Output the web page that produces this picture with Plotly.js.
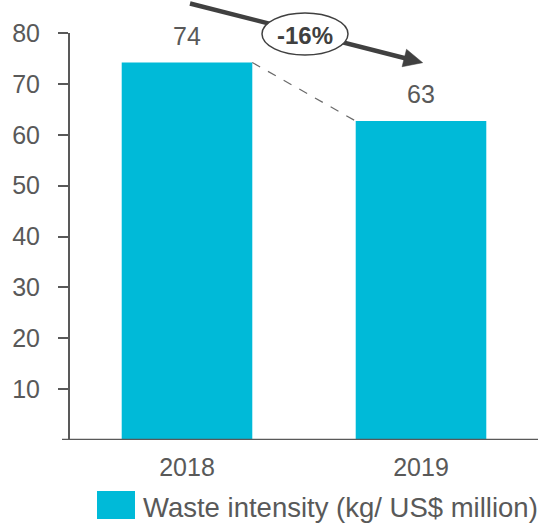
<!DOCTYPE html>
<html>
<head>
<meta charset="utf-8">
<script src="https://cdn.plot.ly/plotly-3.0.1.min.js"></script>
<style>
  html, body { margin: 0; padding: 0; background: #ffffff; }
  #chart { width: 538px; height: 525px; }
</style>
</head>
<body>
<div id="chart"></div>
<script>
// ---- data ----
const categories = ['2018', '2019'];
const wasteIntensity = [74.2, 62.7];
const yTickValues = [10, 20, 30, 40, 50, 60, 70, 80];
const seriesName = 'Waste intensity (kg/ US$ million)';
const changeLabel = '-16%';

// ---- layout helpers (pixel -> paper) ----
const L = 70, R = 0, T = 33, B = 85, WIDTH = 538, HEIGHT = 525;
const PW = WIDTH - L - R, PH = HEIGHT - T - B;
const X = px => (px - L) / PW;
const Y = py => (HEIGHT - B - py) / PH;

const barWidth = 0.558;
const FONT = 'Liberation Sans, Arial, sans-serif';
const GREY = '#595959';
const DARK = '#404040';
const BAR = '#00BAD8';

const trace = {
  type: 'bar',
  x: categories,
  y: wasteIntensity,
  width: barWidth,
  marker: { color: BAR },
  name: seriesName,
  showlegend: false,
  hoverinfo: 'x+y'
};

// arrow geometry
const tail = [190, 3.5], tip = [422.7, 62.7];
const dx = tip[0] - tail[0], dy = tip[1] - tail[1];
const len = Math.hypot(dx, dy);
const ux = dx / len, uy = dy / len, qx = -uy, qy = ux;
const headLen = 19, headHalf = 9;
const base = [tip[0] - ux * headLen, tip[1] - uy * headLen];
const p1 = [base[0] + qx * headHalf, base[1] + qy * headHalf];
const p2 = [base[0] - qx * headHalf, base[1] - qy * headHalf];

const shapes = [
  // x axis baseline (extends slightly left of the y axis)
  { type: 'line', xref: 'paper', yref: 'y', x0: X(62), x1: 1, y0: 0, y1: 0,
    line: { color: GREY, width: 2.5 } },
  // dashed connector between bar tops
  { type: 'line', xref: 'x', yref: 'y',
    x0: 0 + barWidth / 2, y0: wasteIntensity[0],
    x1: 1 - barWidth / 2, y1: wasteIntensity[1],
    line: { color: '#6a6a6a', width: 1.2, dash: 'dash' } },
  // arrow shaft
  { type: 'line', xref: 'paper', yref: 'paper',
    x0: X(tail[0]), y0: Y(tail[1]), x1: X(base[0] + ux * 2), y1: Y(base[1] + uy * 2),
    line: { color: DARK, width: 4.5 } },
  // arrow head
  { type: 'path', xref: 'paper', yref: 'paper',
    path: `M${X(tip[0])},${Y(tip[1])} L${X(p1[0])},${Y(p1[1])} L${X(p2[0])},${Y(p2[1])} Z`,
    fillcolor: DARK, line: { color: DARK, width: 0.5 } },
  // ellipse behind label
  { type: 'circle', xref: 'paper', yref: 'paper',
    x0: X(262), x1: X(348), y0: Y(55), y1: Y(13),
    fillcolor: '#ffffff', line: { color: DARK, width: 1.5 } },
  // legend swatch
  { type: 'rect', xref: 'paper', yref: 'paper',
    x0: X(97), x1: X(135), y0: Y(519), y1: Y(491),
    fillcolor: BAR, line: { width: 0 } }
];

const annotations = categories.map((c, i) => ({
  x: i, y: wasteIntensity[i], xref: 'x', yref: 'y',
  text: String(Math.round(wasteIntensity[i])),
  showarrow: false, xanchor: 'center', yanchor: 'bottom', yshift: 11,
  font: { family: FONT, size: 25, color: GREY }
}));
annotations.push({
  x: X(305), y: Y(35), xref: 'paper', yref: 'paper',
  text: '<b>' + changeLabel + '</b>', showarrow: false,
  xanchor: 'center', yanchor: 'middle',
  font: { family: FONT, size: 24, color: DARK }
});
annotations.push({
  x: X(141), y: Y(507), xref: 'paper', yref: 'paper',
  text: seriesName, showarrow: false,
  xanchor: 'left', yanchor: 'middle',
  font: { family: FONT, size: 27.5, color: GREY }
});

const layout = {
  width: WIDTH, height: HEIGHT,
  margin: { l: L, r: R, t: T, b: B, pad: 0 },
  paper_bgcolor: '#ffffff', plot_bgcolor: '#ffffff',
  showlegend: false,
  font: { family: FONT, color: GREY },
  xaxis: {
    type: 'category', range: [-0.5, 1.5],
    showline: false, ticks: '', showgrid: false, zeroline: false,
    tickfont: { family: FONT, size: 25, color: GREY },
    ticklabelstandoff: 10, fixedrange: true
  },
  yaxis: {
    range: [0, 80], tickvals: yTickValues, ticktext: yTickValues.map(String),
    showline: true, linecolor: GREY, linewidth: 2,
    ticks: 'outside', ticklen: 10, tickwidth: 2, tickcolor: GREY,
    showgrid: false, zeroline: false,
    tickfont: { family: FONT, size: 25, color: GREY },
    ticklabelstandoff: 13, fixedrange: true
  },
  shapes: shapes,
  annotations: annotations
};

Plotly.newPlot('chart', [trace], layout, { displayModeBar: false, staticPlot: true });
</script>
</body>
</html>
